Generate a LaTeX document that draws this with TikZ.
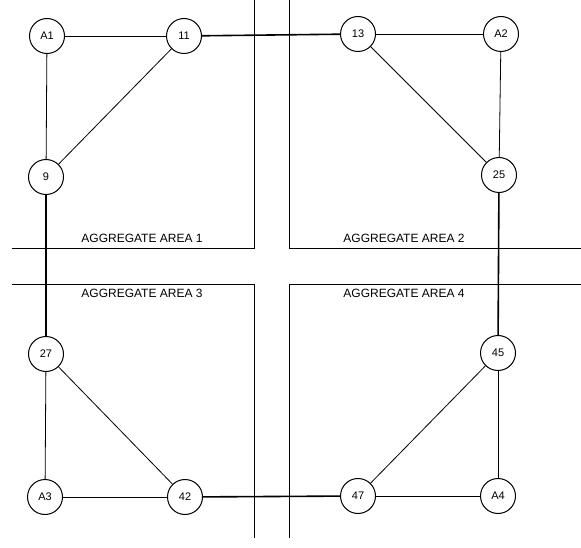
\documentclass[tikz,border=0pt]{standalone}
\usepackage{fontspec}
\setmainfont{Liberation Sans}
\setsansfont{Liberation Sans}
\usepackage{tikz}
\usetikzlibrary{positioning}

\begin{document}
\begin{tikzpicture}[
    x=1pt, y=-1pt,
    font=\sffamily,
    site/.style={
        draw,
        circle,
        fill=white,
        line width=1pt,
        minimum size=35pt,
        inner sep=0pt,
        font=\sffamily\fontsize{11}{12}\selectfont
    },
    link/.style={line width=0.8pt},
    trunk/.style={line width=1.6pt},
    area/.style={line width=0.8pt},
    arealabel/.style={font=\sffamily\fontsize{12}{13}\selectfont}
]
    \useasboundingbox (0,0) rectangle (581,548);

    %% Zones
    \draw[area] (12,248) -- (254,248) -- (254,0);
    \draw[area] (289,0) -- (289,248) -- (581,248);
    \draw[area] (12,284) -- (254,284) -- (254,538);
    \draw[area] (289,538) -- (289,284) -- (581,284);
    \node[arealabel] (lab1) at (142,238) {AGGREGATE AREA 1};
    \node[arealabel] (lab2) at (404,238) {AGGREGATE AREA 2};
    \node[arealabel] (lab3) at (142,293) {AGGREGATE AREA 3};
    \node[arealabel] (lab4) at (404,293) {AGGREGATE AREA 4};

    %% Noeuds
    \node[site] (a1) at (47,36) {A1};
    \node[site] (n11) at (184,36) {11};
    \node[site] (n13) at (358,34) {13};
    \node[site] (a2) at (501,34) {A2};
    \node[site] (n9) at (46,177) {9};
    \node[site] (n25) at (499,175) {25};
    \node[site] (n27) at (46,354) {27};
    \node[site] (n45) at (498,353) {45};
    \node[site] (a3) at (45,497) {A3};
    \node[site] (n42) at (185,497) {42};
    \node[site] (n47) at (358,496) {47};
    \node[site] (a4) at (498,496) {A4};

    %% Liaisons
    \draw[link] (a1) -- (n11);
    \draw[link] (a1) -- (n9);
    \draw[link] (n11) -- (n9);
    \draw[link] (n13) -- (a2);
    \draw[link] (n13) -- (n25);
    \draw[link] (a2) -- (n25);
    \draw[link] (n27) -- (a3);
    \draw[link] (n27) -- (n42);
    \draw[link] (a3) -- (n42);
    \draw[link] (n45) -- (n47);
    \draw[link] (n45) -- (a4);
    \draw[link] (n47) -- (a4);

    %% Liaisons entre zones
    \draw[trunk] (n11) -- (n13);
    \draw[trunk] (n9) -- (n27);
    \draw[trunk] (n25) -- (n45);
    \draw[trunk] (n42) -- (n47);
\end{tikzpicture}
\end{document}
